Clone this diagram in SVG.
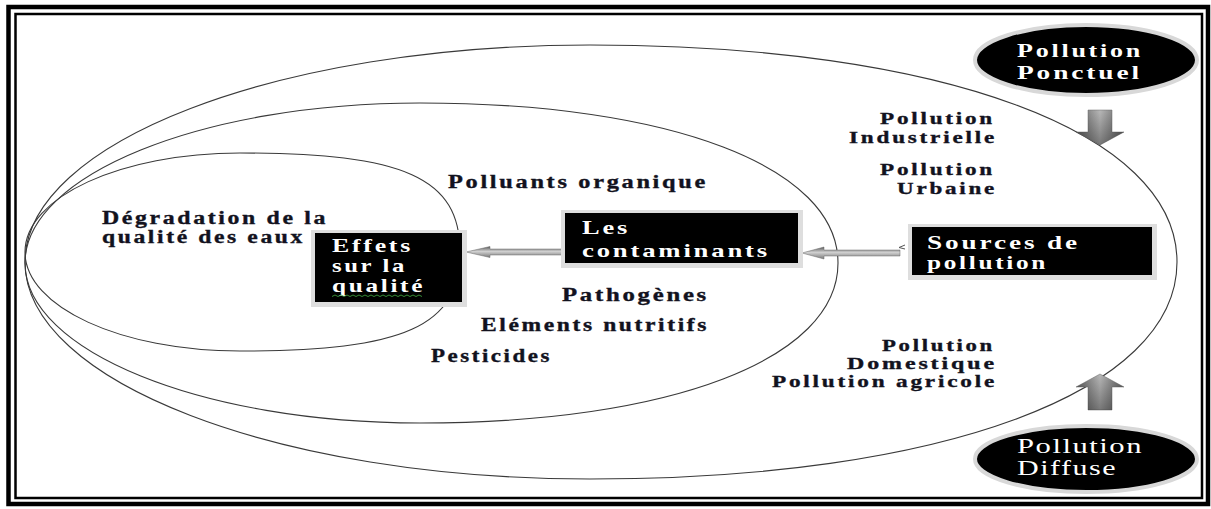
<svg xmlns="http://www.w3.org/2000/svg" width="1211" height="509" viewBox="0 0 1211 509">
<defs>
<linearGradient id="gh" x1="0" y1="0" x2="0" y2="1">
<stop offset="0" stop-color="#5a5a5a"/><stop offset="0.45" stop-color="#d0d0d0"/><stop offset="1" stop-color="#7a7a7a"/>
</linearGradient>
<linearGradient id="gv" x1="0" y1="0" x2="1" y2="0">
<stop offset="0" stop-color="#5e5e5e"/><stop offset="0.5" stop-color="#b8b8b8"/><stop offset="1" stop-color="#5e5e5e"/>
</linearGradient>
<linearGradient id="gvd" x1="0" y1="0" x2="0" y2="1">
<stop offset="0" stop-color="#000" stop-opacity="0"/><stop offset="1" stop-color="#000" stop-opacity="0.35"/>
</linearGradient>
</defs>
<style>
.frame{fill:none;stroke:#000}
.zone{fill:none;stroke:#3a3a3a;stroke-width:1.1}
.lbl{font-family:"Liberation Serif","Times New Roman",serif;font-weight:bold;font-size:18px;fill:#12121e;stroke:#12121e;stroke-width:0.35;letter-spacing:2px}
.sm{font-size:16.5px}
.wt{font-family:"Liberation Serif","Times New Roman",serif;font-weight:bold;font-size:19px;fill:#fff;letter-spacing:2px}
.wr{font-family:"Liberation Serif","Times New Roman",serif;font-weight:normal;font-size:20px;fill:#fff;letter-spacing:1px}
.box{fill:#000}
.halo{fill:#dedede}
.oval{fill:#000;stroke:#d8d8d8;stroke-width:4}
.arr{stroke:#6a6a6a;stroke-width:0.5}
</style>
<rect width="1211" height="509" fill="#fff"/>
<rect class="frame" x="8.5" y="7" width="1199.5" height="497" stroke-width="4.5"/>
<rect class="frame" x="15.5" y="14" width="1186.5" height="484" stroke-width="2.5"/>

<g id="zones">
<path class="zone" d="M25,262 C25,142 278,45 590,45 C942,45 1177,132 1177,262 C1177,392 942,479 590,479 C278,479 25,382 25,262 Z"/>
<path class="zone" d="M25,263 C25,175 202,103 420,103 C671,103 838,167 838,263 C838,359 671,423 420,423 C202,423 25,351 25,263 Z"/>
<path class="zone" d="M25,252 C25,197 121,153 240,153 C405,153 460,178 460,252 C460,326 405,351 240,351 C121,351 25,307 25,252 Z"/>
</g>

<g id="labels">
<text class="lbl" x="102" y="224" textLength="226" lengthAdjust="spacingAndGlyphs">Dégradation de la</text>
<text class="lbl" x="102" y="243" textLength="203" lengthAdjust="spacingAndGlyphs">qualité des eaux</text>
<text class="lbl" x="448" y="188" font-size="19" textLength="260" lengthAdjust="spacingAndGlyphs">Polluants organique</text>
<text class="lbl sm" x="880" y="124" textLength="115" lengthAdjust="spacingAndGlyphs">Pollution</text>
<text class="lbl sm" x="849" y="143" textLength="148" lengthAdjust="spacingAndGlyphs">Industrielle</text>
<text class="lbl sm" x="880" y="175" textLength="115" lengthAdjust="spacingAndGlyphs">Pollution</text>
<text class="lbl sm" x="897" y="194" textLength="100" lengthAdjust="spacingAndGlyphs">Urbaine</text>
<text class="lbl" x="562" y="301" font-size="19" textLength="147" lengthAdjust="spacingAndGlyphs">Pathogènes</text>
<text class="lbl" x="481" y="331" font-size="19" textLength="228" lengthAdjust="spacingAndGlyphs">Eléments nutritifs</text>
<text class="lbl" x="431" y="362" font-size="19" textLength="121" lengthAdjust="spacingAndGlyphs">Pesticides</text>
<text class="lbl sm" x="882" y="351" textLength="113" lengthAdjust="spacingAndGlyphs">Pollution</text>
<text class="lbl sm" x="847" y="369" textLength="150" lengthAdjust="spacingAndGlyphs">Domestique</text>
<text class="lbl sm" x="772" y="387" textLength="225" lengthAdjust="spacingAndGlyphs">Pollution agricole</text>
</g>

<g id="connectors">
<polygon class="arr" fill="url(#gh)" points="466,252 490,246.5 490,249 564,249 564,255 490,255 490,257.5"/>
<polygon class="arr" fill="url(#gh)" points="802,253 824,247 824,250 900,250 900,256 824,256 824,259"/>
<path d="M905,245 L899,247.5 L905,249" fill="none" stroke="#555" stroke-width="1"/>
<polygon class="arr" fill="url(#gv)" points="1088,110 1112,110 1112,132 1124,132 1100,145 1076,132 1088,132"/>
<polygon fill="url(#gvd)" points="1088,110 1112,110 1112,132 1124,132 1100,145 1076,132 1088,132"/>
<polygon class="arr" fill="url(#gv)" points="1100,374 1124,387 1112,387 1112,410 1088,410 1088,387 1076,387"/>
<polygon fill="url(#gvd)" points="1100,374 1124,387 1112,387 1112,410 1088,410 1088,387 1076,387"/>
</g>

<g id="effets">
<rect class="halo" x="311" y="230" width="156" height="77"/>
<rect class="box" x="315" y="233" width="147" height="69"/>
<text class="wt" x="332" y="252" textLength="81" lengthAdjust="spacingAndGlyphs">Effets</text>
<text class="wt" x="332" y="272" textLength="75" lengthAdjust="spacingAndGlyphs">sur la</text>
<text class="wt" x="332" y="292" textLength="93" lengthAdjust="spacingAndGlyphs">qualité</text>
<path d="M332,296.5 l3,-1.5 l3,1.5 l3,-1.5 l3,1.5 l3,-1.5 l3,1.5 l3,-1.5 l3,1.5 l3,-1.5 l3,1.5 l3,-1.5 l3,1.5 l3,-1.5 l3,1.5 l3,-1.5 l3,1.5 l3,-1.5 l3,1.5 l3,-1.5 l3,1.5 l3,-1.5 l3,1.5 l3,-1.5 l3,1.5 l3,-1.5 l3,1.5 l3,-1.5 l3,1.5 l3,-1.5 l3,1.5" fill="none" stroke="#3c9a3c" stroke-width="0.9"/>
</g>

<g id="contaminants">
<rect class="halo" x="561" y="210" width="242" height="58"/>
<rect class="box" x="565" y="213" width="233" height="50"/>
<text class="wt" x="582" y="234" font-size="20" textLength="48" lengthAdjust="spacingAndGlyphs">Les</text>
<text class="wt" x="582" y="257" font-size="20" textLength="188" lengthAdjust="spacingAndGlyphs">contaminants</text>
</g>

<g id="sources">
<rect class="halo" x="908" y="224" width="249" height="56"/>
<rect class="box" x="912" y="227" width="240" height="48"/>
<text class="wt" x="927" y="249" textLength="153" lengthAdjust="spacingAndGlyphs">Sources de</text>
<text class="wt" x="927" y="269" textLength="121" lengthAdjust="spacingAndGlyphs">pollution</text>
</g>

<g id="ponctuel">
<ellipse class="oval" cx="1086" cy="60" rx="111" ry="35"/>
<text class="wt" x="1017" y="57" textLength="126" lengthAdjust="spacingAndGlyphs">Pollution</text>
<text class="wt" x="1017" y="79" textLength="125" lengthAdjust="spacingAndGlyphs">Ponctuel</text>
</g>

<g id="diffuse">
<ellipse class="oval" cx="1086" cy="459" rx="111" ry="33"/>
<text class="wr" x="1017" y="453" textLength="126" lengthAdjust="spacingAndGlyphs">Pollution</text>
<text class="wr" x="1017" y="475" textLength="100" lengthAdjust="spacingAndGlyphs">Diffuse</text>
</g>
</svg>
